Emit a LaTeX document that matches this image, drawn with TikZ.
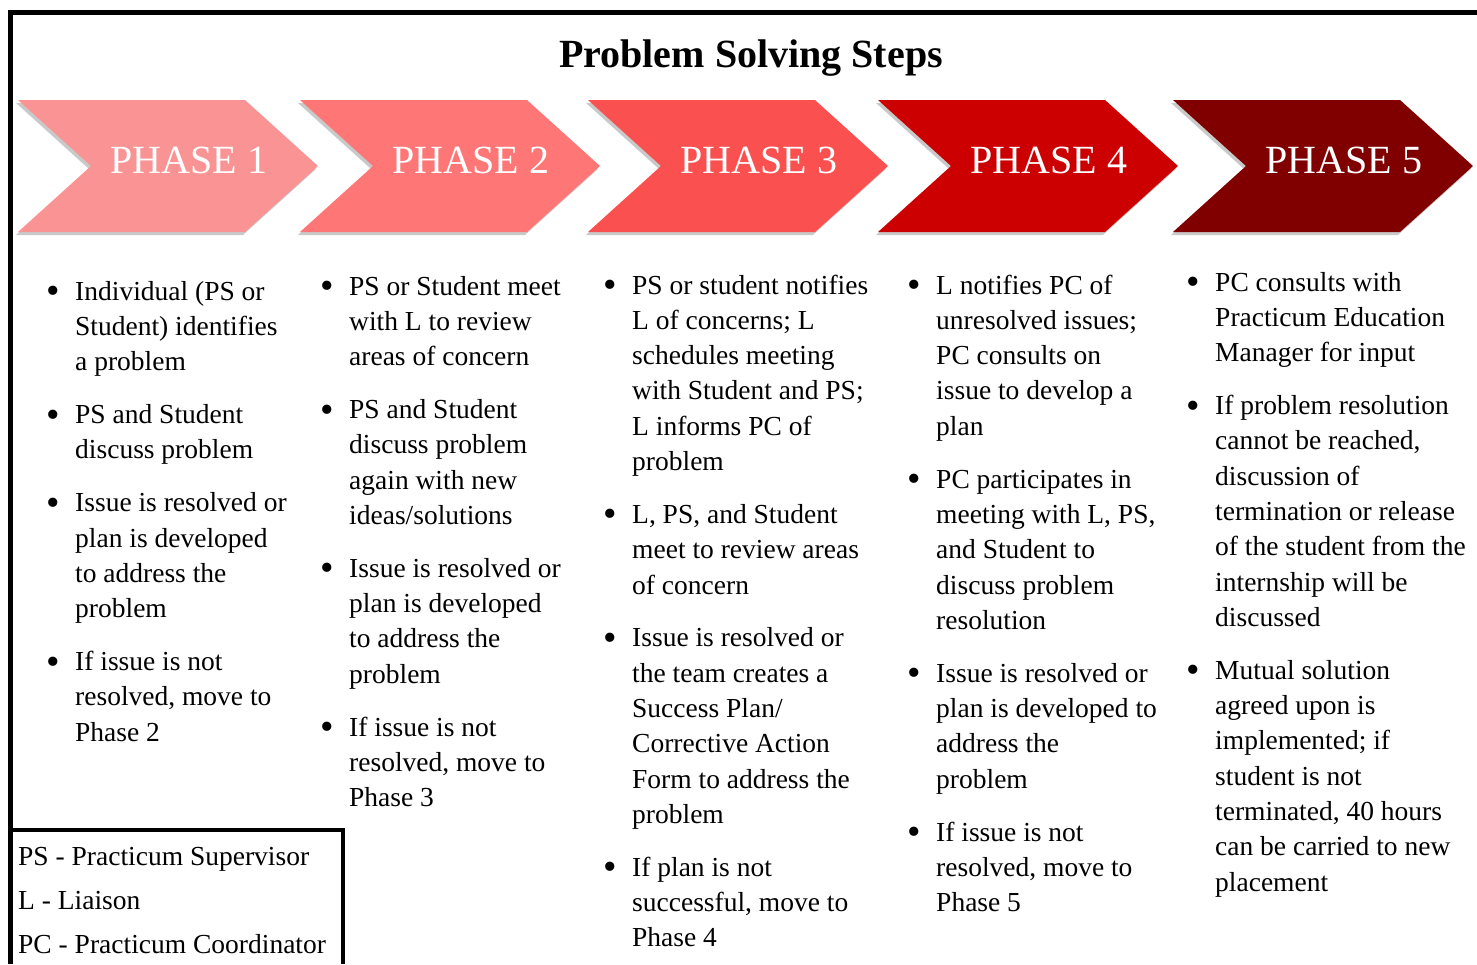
\documentclass[tikz,border=0pt]{standalone}
\usepackage{fontspec}
\usepackage{graphicx}
\setmainfont{Liberation Serif}
\usetikzlibrary{shadows}

\definecolor{phaseA}{RGB}{250,148,148}
\definecolor{phaseB}{RGB}{255,118,118}
\definecolor{phaseC}{RGB}{250,80,80}
\definecolor{phaseD}{RGB}{204,0,0}
\definecolor{phaseE}{RGB}{128,0,0}

\newcommand{\stepfont}{\fontsize{27.5}{35.3}\selectfont}
\newcommand{\steplist}[1]{\parbox[t]{300pt}{\stepfont\parskip=17.6pt #1}}
\newcommand{\bull}{\par\hangindent=29pt\hangafter=1\noindent\makebox[29pt][l]{\raisebox{-3.5pt}{\scalebox{1.4}{\textbullet}}}}

\tikzset{
  steps/.style={anchor=base west, inner sep=0pt},
  phaselabel/.style={anchor=base, inner sep=0pt, text=white, font=\fontsize{40}{44}\selectfont},
  chevshadow/.style={drop shadow={shadow xshift=-2pt, shadow yshift=-3pt, opacity=0.3, fill=black!70}}
}

\begin{document}
\begin{tikzpicture}[x=1pt, y=-1pt]
	\useasboundingbox (0,0) rectangle (1477,964);
	% frame and title
	\draw [line width=5pt] (10,964) -- (10,12.5) -- (1477,12.5);
	\node [anchor=base, inner sep=0pt, font=\fontsize{40}{44}\selectfont\bfseries] (title) at (751,67) {Problem Solving Steps};
	% phase arrows
	\foreach \i/\x/\col in {1/18/phaseA, 2/300/phaseB, 3/588/phaseC, 4/878/phaseD, 5/1173/phaseE} {
		\fill [\col, chevshadow] (\x,100) -- ++(227,0) -- ++(73,66) -- ++(-73,66) -- ++(-227,0) -- ++(73,-66) -- cycle;
		\node [phaselabel] (ph\i) at ({\x+171},173) {PHASE \i};
	}
	% steps under each phase
	\node [steps] (col1) at (46,300) {\steplist{%
		\bull Individual (PS or\\Student) identifies\\a problem
		\bull PS and Student\\discuss problem
		\bull Issue is resolved or\\plan is developed\\to address the\\problem
		\bull If issue is not\\resolved, move to\\Phase 2}};
	\node [steps] (col2) at (320,295) {\steplist{%
		\bull PS or Student meet\\with L to review\\areas of concern
		\bull PS and Student\\discuss problem\\again with new\\ideas/solutions
		\bull Issue is resolved or\\plan is developed\\to address the\\problem
		\bull If issue is not\\resolved, move to\\Phase 3}};
	\node [steps] (col3) at (603,294) {\steplist{%
		\bull PS or student notifies\\L of concerns; L\\schedules meeting\\with Student and PS;\\L informs PC of\\problem
		\bull L, PS, and Student\\meet to review areas\\of concern
		\bull Issue is resolved or\\the team creates a\\Success Plan/\\Corrective Action\\Form to address the\\problem
		\bull If plan is not\\successful, move to\\Phase 4}};
	\node [steps] (col4) at (907,294) {\steplist{%
		\bull L notifies PC of\\unresolved issues;\\PC consults on\\issue to develop a\\plan
		\bull PC participates in\\meeting with L, PS,\\and Student to\\discuss problem\\resolution
		\bull Issue is resolved or\\plan is developed to\\address the\\problem
		\bull If issue is not\\resolved, move to\\Phase 5}};
	\node [steps] (col5) at (1186,291) {\steplist{%
		\bull PC consults with\\Practicum Education\\Manager for input
		\bull If problem resolution\\cannot be reached,\\discussion of\\termination or release\\of the student from the\\internship will be\\discussed
		\bull Mutual solution\\agreed upon is\\implemented; if\\student is not\\terminated, 40 hours\\can be carried to new\\placement}};
	% legend
	\draw [line width=4.5pt] (10,964) -- (10,830) -- (343,830) -- (343,964);
	\node [steps] (legend) at (18,865) {\parbox[t]{330pt}{\fontsize{27.5}{44}\selectfont
		PS - Practicum Supervisor\\L - Liaison\\PC - Practicum Coordinator}};
\end{tikzpicture}
\end{document}
